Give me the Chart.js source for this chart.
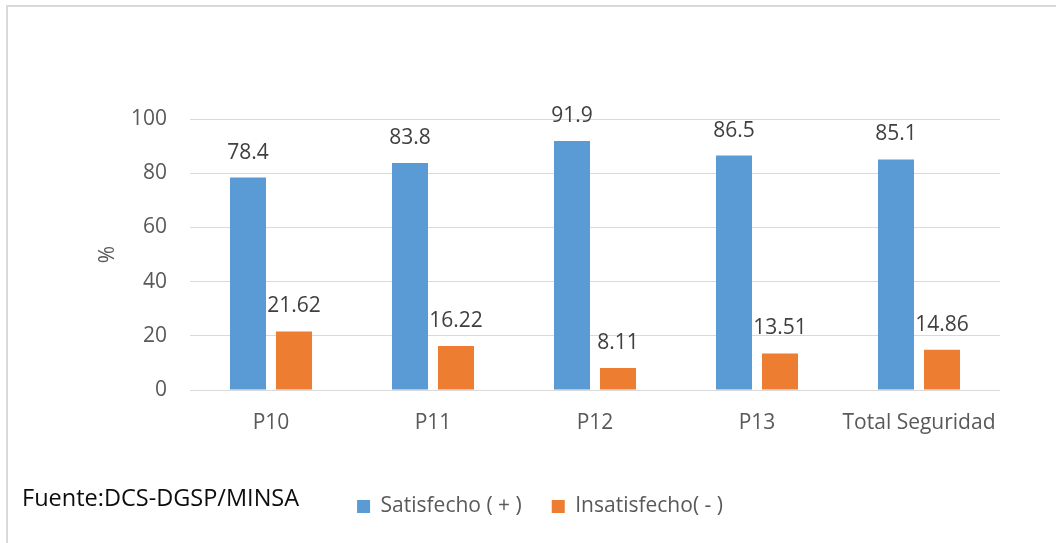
<!DOCTYPE html>
<html>
<head>
<meta charset="utf-8">
<script src="https://cdn.jsdelivr.net/npm/chart.js@4/dist/chart.umd.min.js"></script>
<style>
  html, body { margin: 0; padding: 0; background: #fff; }
  #wrap { width: 1056px; height: 543px; position: relative; }
</style>
</head>
<body>
<div id="wrap"><canvas id="chart" width="1056" height="543"></canvas></div>
<script>
const categories = ['P10', 'P11', 'P12', 'P13', 'Total Seguridad'];
const satisfecho = [78.4, 83.8, 91.9, 86.5, 85.1];
const insatisfecho = [21.62, 16.22, 8.11, 13.51, 14.86];
const yTicks = [0, 20, 40, 60, 80, 100];

const FONT = "'Open Sans', sans-serif";
const GRID = '#d9d9d9';
const TEXT = '#595959';

Chart.defaults.font.family = FONT;
Chart.defaults.font.size = 21;
Chart.defaults.color = TEXT;

// value labels above each bar + frame and source note
const extras = {
  id: 'extras',
  beforeDraw(chart) {
    const ctx = chart.ctx;
    ctx.save();
    ctx.fillStyle = '#fff';
    ctx.fillRect(0, 0, chart.width, chart.height);
    ctx.fillStyle = GRID;
    ctx.fillRect(6, 5, chart.width - 6, 2);
    ctx.fillRect(6, 5, 2, chart.height - 5);
    ctx.restore();
  },
  afterDatasetsDraw(chart) {
    const ctx = chart.ctx;
    ctx.save();
    ctx.font = '21px ' + FONT;
    ctx.fillStyle = '#404040';
    ctx.textAlign = 'center';
    ctx.textBaseline = 'alphabetic';
    chart.data.datasets.forEach((ds, i) => {
      chart.getDatasetMeta(i).data.forEach((bar, j) => {
        ctx.fillText(String(ds.data[j]), bar.x, bar.y - 19);
      });
    });
    ctx.font = '23.5px ' + FONT;
    ctx.fillStyle = '#0d0d0d';
    ctx.textAlign = 'left';
    ctx.textBaseline = 'middle';
    ctx.fillText('Fuente:DCS-DGSP/MINSA', 22, 499);
    ctx.restore();
  }
};

new Chart(document.getElementById('chart'), {
  type: 'bar',
  plugins: [extras],
  data: {
    labels: categories,
    datasets: [
      {
        label: 'Satisfecho ( + )',
        data: satisfecho,
        backgroundColor: '#5b9bd5'
      },
      {
        label: 'Insatisfecho( - )',
        data: insatisfecho,
        backgroundColor: '#ed7d31'
      }
    ]
  },
  options: {
    responsive: false,
    animation: false,
    categoryPercentage: 0.568,
    barPercentage: 0.783,
    layout: {
      padding: {left: 80, right: 56, top: 119, bottom: 16}
    },
    plugins: {
      tooltip: {enabled: false},
      legend: {
        position: 'bottom',
        labels: {
          boxWidth: 13,
          boxHeight: 13,
          padding: 30,
          color: TEXT,
          font: {size: 21}
        }
      }
    },
    scales: {
      x: {
        grid: {display: false},
        border: {display: false},
        ticks: {padding: 12, color: TEXT},
        afterFit(scale) { scale.height = 76; }
      },
      y: {
        min: 0,
        max: 100,
        afterBuildTicks(scale) { scale.ticks = yTicks.map(v => ({value: v})); },
        grid: {color: GRID, drawTicks: false},
        border: {display: false},
        ticks: {padding: 23, color: TEXT},
        title: {display: true, text: '%', color: TEXT, padding: {top: 15, bottom: 0}},
        afterFit(scale) { scale.width = 110; }
      }
    }
  }
});
</script>
</body>
</html>
